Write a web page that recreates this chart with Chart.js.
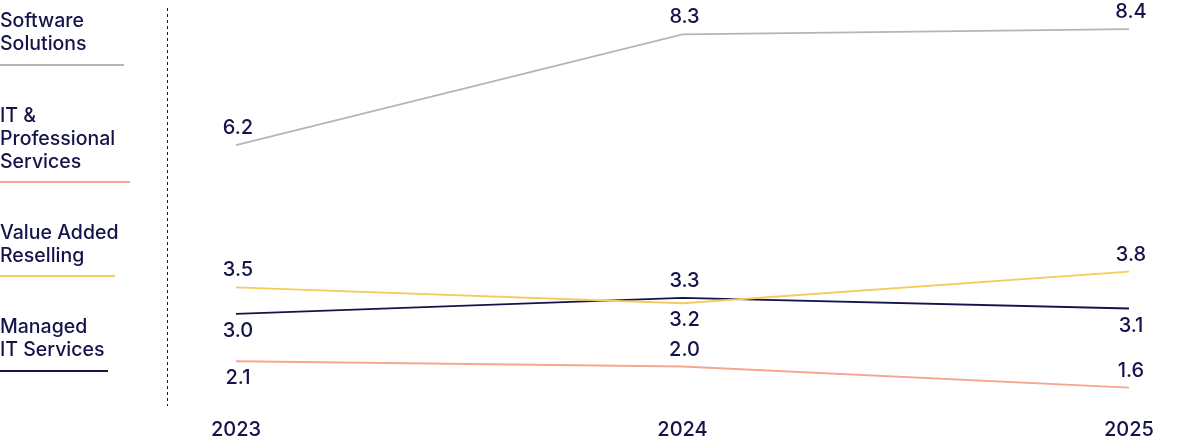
<!DOCTYPE html>
<html>
<head>
<meta charset="utf-8">
<script src="https://cdn.jsdelivr.net/npm/chart.js@4"></script>
<style>
  html, body { margin: 0; padding: 0; background: #fff; }
  #wrap { position: relative; width: 1200px; height: 445px; }
  #chart { position: absolute; left: 0; top: 0; }
  .leg { position: absolute; left: 0; font-family: Inter, 'Noto Sans', sans-serif; font-size: 19.5px; font-weight: 500; line-height: 23px; color: #14134a; white-space: nowrap; }
</style>
</head>
<body>
<div id="wrap">
  <canvas id="chart" width="1200" height="445"></canvas>
</div>
<script>
const years = ['2023', '2024', '2025'];
const softwareSolutions = [6.2, 8.3, 8.4];
const itProfessional = [2.1, 2.0, 1.6];
const valueAdded = [3.5, 3.2, 3.8];
const managedIT = [3.0, 3.3, 3.1];

const seriesNames = [['Software', 'Solutions'], ['IT &', 'Professional', 'Services'], ['Value Added', 'Reselling'], ['Managed', 'IT Services']];
// where each value label sits relative to its point
const labelSides = [
  ['above', 'above', 'above'],
  ['below', 'above', 'above'],
  ['above', 'below', 'above'],
  ['below', 'above', 'below']
];

const navy = '#14134a';
const colors = ['#b5b5b5', '#f6a58f', '#f2cd5c', navy];
const legendTops = [9, 104, 221, 315];
const legendLineY = [65, 182, 276, 371];
const legendLineW = [124, 130, 115, 108];

// legend (html)
const wrap = document.getElementById('wrap');
seriesNames.forEach((lines, i) => {
  const d = document.createElement('div');
  d.className = 'leg';
  d.style.top = legendTops[i] + 'px';
  d.innerHTML = lines.join('<br>');
  wrap.appendChild(d);
  const l = document.createElement('div');
  l.style.cssText = 'position:absolute;left:0;height:1.5px;top:' + (legendLineY[i] - 1) + 'px;width:' + legendLineW[i] + 'px;background:' + colors[i];
  wrap.appendChild(l);
});

const valueLabels = {
  id: 'valueLabels',
  afterDatasetsDraw(chart) {
    const ctx = chart.ctx;
    ctx.save();
    // dashed divider
    ctx.strokeStyle = navy;
    ctx.lineWidth = 1;
    ctx.setLineDash([3, 3]);
    ctx.beginPath();
    ctx.moveTo(167.5, 8);
    ctx.lineTo(167.5, 406);
    ctx.stroke();
    ctx.setLineDash([]);

    ctx.fillStyle = navy;
    ctx.font = '500 20px Inter, "Noto Sans", sans-serif';
    ctx.textAlign = 'center';
    ctx.textBaseline = 'middle';
    chart.data.datasets.forEach((ds, i) => {
      const meta = chart.getDatasetMeta(i);
      meta.data.forEach((pt, j) => {
        const dy = labelSides[i][j] === 'above' ? -17 : 17;
        ctx.fillText(ds.data[j].toFixed(1), pt.x + 2, pt.y + dy);
      });
    });
    ctx.restore();
  }
};

const allSeries = [softwareSolutions, itProfessional, valueAdded, managedIT];

new Chart(document.getElementById('chart'), {
  type: 'line',
  data: {
    labels: years,
    datasets: allSeries.map((data, i) => ({
      label: seriesNames[i].join(' '),
      data,
      borderColor: colors[i],
      borderWidth: 1.8,
      pointRadius: 0,
      tension: 0,
      fill: false
    }))
  },
  options: {
    responsive: false,
    animation: false,
    devicePixelRatio: 1,
    layout: { padding: { left: 236, right: 71, top: 8, bottom: 0 } },
    plugins: { legend: { display: false }, tooltip: { enabled: false } },
    scales: {
      x: {
        offset: false,
        grid: { display: false, drawTicks: false },
        border: { display: false },
        ticks: { color: navy, padding: 3, font: { family: "Inter, 'Noto Sans', sans-serif", size: 20, weight: '500' } }
      },
      y: {
        display: false,
        min: 1.08,
        max: 8.8
      }
    }
  },
  plugins: [valueLabels]
});
</script>
</body>
</html>
